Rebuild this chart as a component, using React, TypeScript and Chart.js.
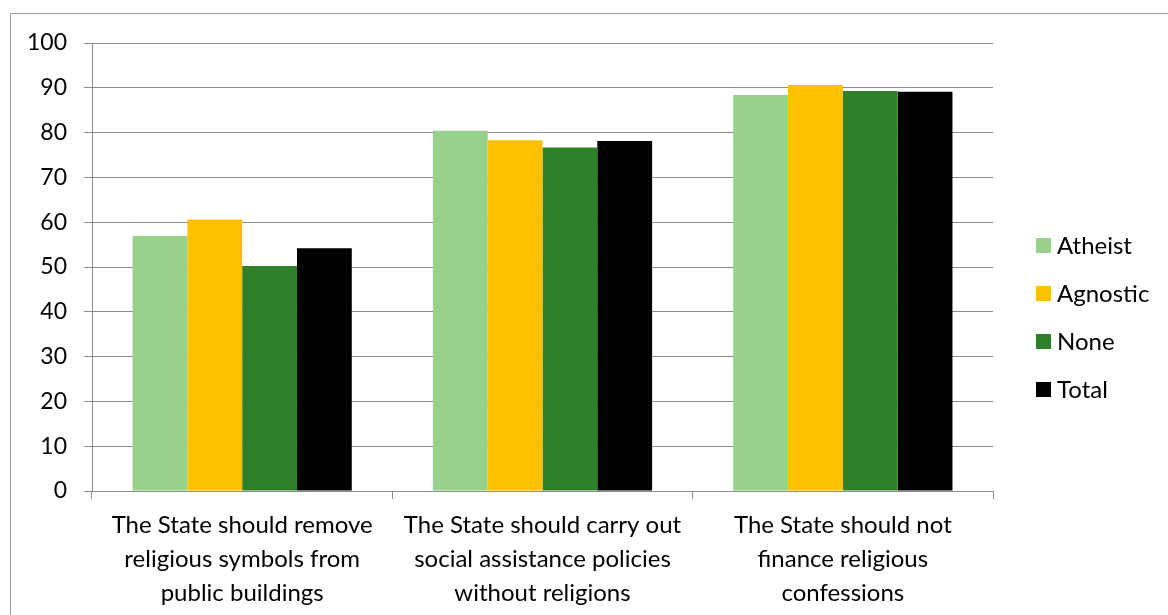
import React, { useEffect, useRef } from "react";
import { Chart, registerables } from "chart.js";

Chart.register(...registerables);

const categories: string[][] = [
  ["The State should remove", "religious symbols from", "public buildings"],
  ["The State should carry out", "social assistance policies", "without religions"],
  ["The State should not", "finance religious", "confessions"],
];
const seriesNames = ["Atheist", "Agnostic", "None", "Total"];
const seriesColors = ["#97D18B", "#FFC000", "#2E8029", "#000000"];
const atheist = [56.9, 80.4, 88.4];
const agnostic = [60.6, 78.3, 90.6];
const none = [50.2, 76.7, 89.3];
const total = [54.2, 78.1, 89.1];
const yTicks = [0, 10, 20, 30, 40, 50, 60, 70, 80, 90, 100];

const FONT = "Lato, 'Open Sans', sans-serif";

const frameAndLegend = {
  id: "frameAndLegend",
  beforeDraw(chart: any) {
    const ctx = chart.ctx;
    ctx.save();
    ctx.fillStyle = "#ffffff";
    ctx.fillRect(0, 0, chart.width, chart.height);
    ctx.strokeStyle = "#a0a0a0";
    ctx.lineWidth = 1;
    ctx.beginPath();
    ctx.moveTo(10.5, chart.height);
    ctx.lineTo(10.5, 13.5);
    ctx.lineTo(chart.width, 13.5);
    ctx.stroke();
    ctx.restore();
  },
  afterDraw(chart: any) {
    const ctx = chart.ctx;
    ctx.save();
    ctx.font = `24px ${FONT}`;
    ctx.textBaseline = "middle";
    ctx.textAlign = "left";
    chart.data.datasets.forEach((ds: any, i: number) => {
      const cy = 245 + i * 48;
      ctx.fillStyle = ds.backgroundColor;
      ctx.fillRect(1036, cy - 7, 15, 15);
      ctx.fillStyle = "#000000";
      ctx.fillText(ds.label, 1057, cy + 1);
    });
    ctx.restore();
  },
};

export default function App() {
  const ref = useRef<HTMLCanvasElement | null>(null);
  useEffect(() => {
    if (!ref.current) return;
    const values = [atheist, agnostic, none, total];
    const chart = new Chart(ref.current, {
      type: "bar",
      data: {
        labels: categories,
        datasets: seriesNames.map((name, i) => ({
          label: name,
          data: values[i],
          backgroundColor: seriesColors[i],
          borderWidth: 0,
          categoryPercentage: 0.73,
          barPercentage: 1.0,
        })),
      },
      options: {
        animation: false,
        responsive: false,
        devicePixelRatio: 1,
        layout: { padding: { left: 0, top: 43, right: 175, bottom: 0 } },
        plugins: {
          legend: { display: false },
          tooltip: { enabled: false },
        },
        scales: {
          x: {
            afterFit: (s: any) => {
              s.height = 124;
            },
            grid: {
              drawOnChartArea: false,
              drawTicks: true,
              tickLength: 8,
              color: "#8c8c8c",
              offset: true,
            },
            border: { color: "#8c8c8c", width: 1 },
            ticks: {
              color: "#000000",
              padding: 9,
              maxRotation: 0,
              autoSkip: false,
              font: { family: FONT, size: 24, lineHeight: 34 / 24 },
            },
          },
          y: {
            min: 0,
            max: 100,
            afterFit: (s: any) => {
              s.width = 92;
            },
            afterBuildTicks: (s: any) => {
              s.ticks = yTicks.map((v) => ({ value: v }));
            },
            grid: {
              color: "#8c8c8c",
              tickLength: 8,
              drawTicks: true,
            },
            border: { color: "#8c8c8c", width: 1 },
            ticks: {
              color: "#000000",
              padding: 17,
              font: { family: FONT, size: 23 },
            },
          },
        },
      },
      plugins: [frameAndLegend],
    });
    return () => chart.destroy();
  }, []);
  return (
    <div style={{ position: "absolute", left: 0, top: 0, width: 1168, height: 615 }}>
      <canvas ref={ref} width={1168} height={615} style={{ width: 1168, height: 615 }} />
    </div>
  );
}
